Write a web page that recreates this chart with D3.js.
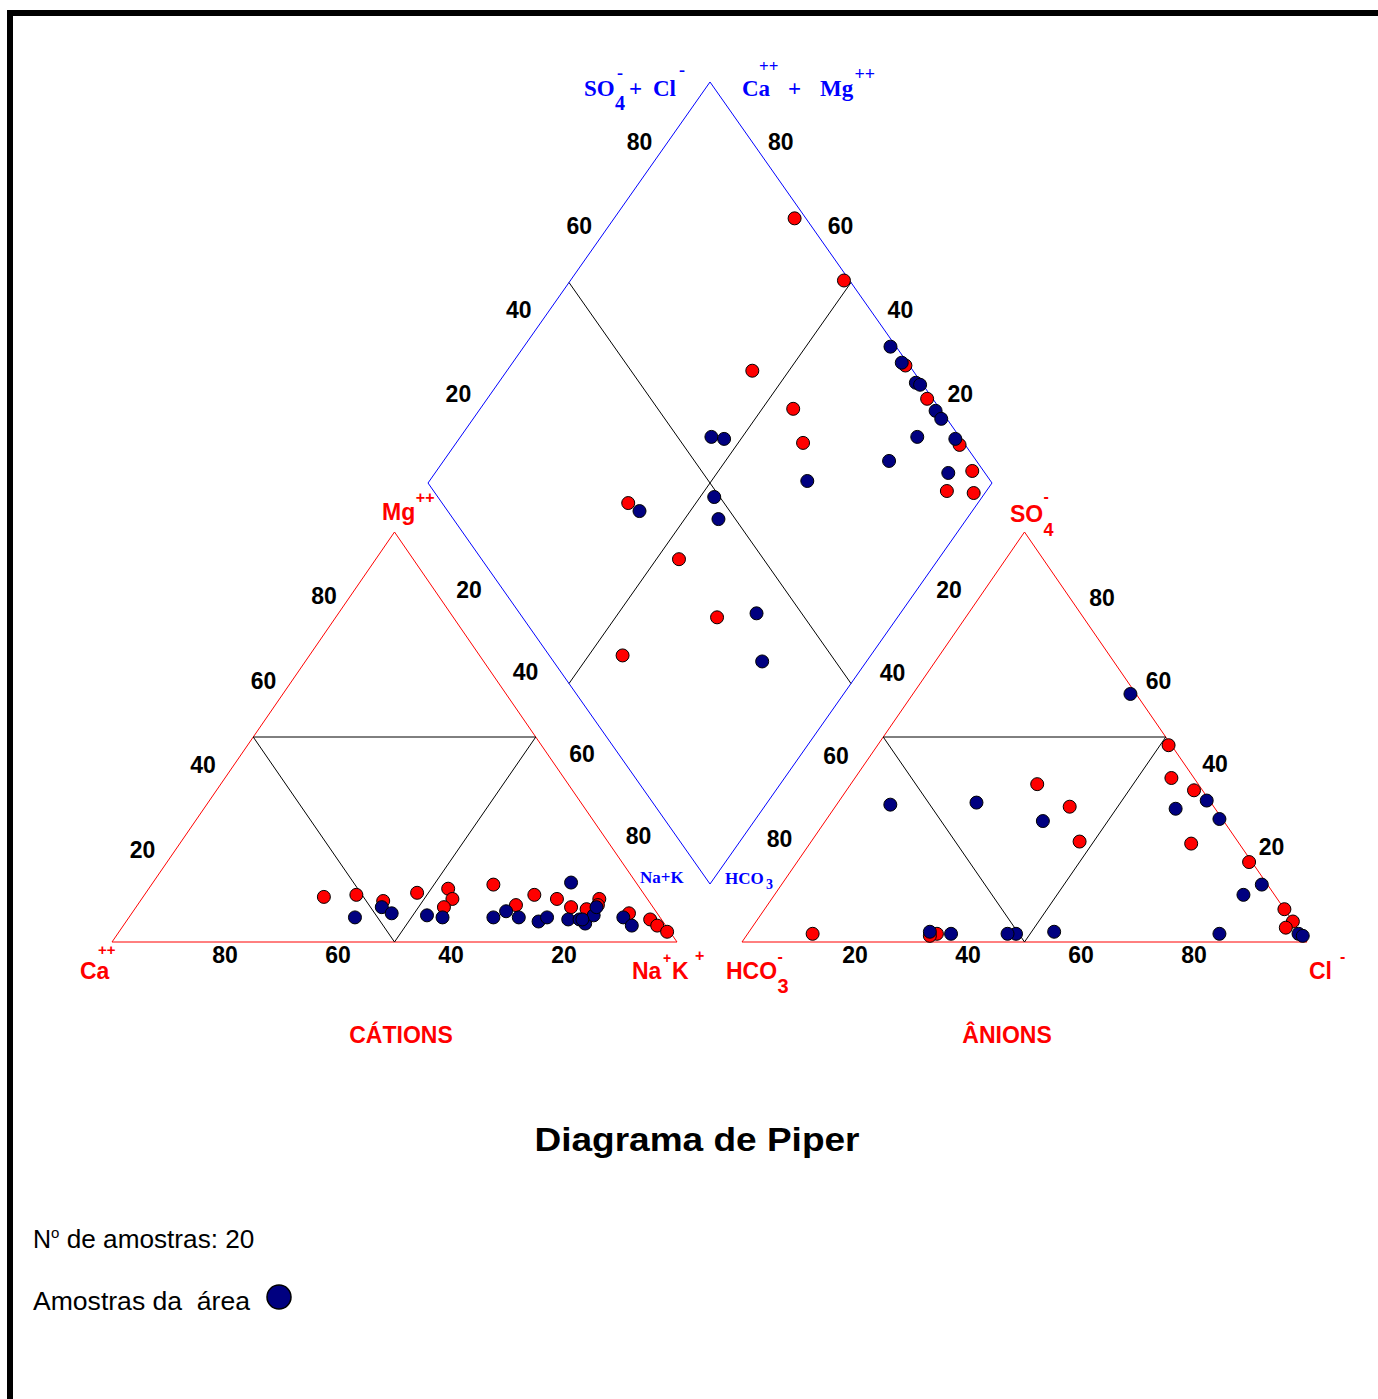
<!DOCTYPE html>
<html>
<head>
<meta charset="utf-8">
<script src="https://cdn.jsdelivr.net/npm/d3@7"></script>
<style>
  body { margin: 0; background: #fff; }
</style>
</head>
<body>
<div id="chart"></div>
<script>
var width = 1378,
    height = 1399;

var ticks = [20, 40, 60, 80];

// cations: [Ca %, Mg %]  (Na+K = 100 - Ca - Mg)
var cationsRed = [[57,11],[51,11.5],[47,10],[40,12],[34,13],[34.5,10.5],[37,8.5],[25.5,14],[24,9],
  [19.5,11.5],[16,10.5],[14.5,8.5],[12,8],[8.5,10.5],[9.5,9],[5,7],[2,5.5],[1.5,4],[0.5,2.5]];
var cationsBlue = [[54,6],[48,8.5],[47,7],[41,6.5],[38.5,6],[29.5,6],[26.5,7.5],[25,6],[22,5],
  [20,6],[11.5,14.5],[16.5,5.5],[14.5,5.5],[14,4.5],[11.5,6.5],[10,8.5],[14,5.5],[6.5,6],[6,4]];

// anions: [Cl %, SO4 %]  (HCO3 = 100 - Cl - SO4)
var anionsRed = [[51.5,48],[56,40],[61.5,37],[67.5,24],[80,19.5],[92,8],[95,5],[94.5,3.5],
  [33.5,2],[32.5,1.5],[11.5,2],[33,38.5],[41.5,33],[47.5,24.5]];
var anionsBlue = [[38.5,60.5],[65,34.5],[60.5,32.5],[69.5,30],[85,14],[83,11.5],[97.5,2],[98.5,1.5],
  [83.5,2],[54,2.5],[47.5,2],[46,2],[36,2],[32,2.5],[9.5,33.5],[24.5,34],[38.5,29.5]];

// diamond: [Ca+Mg %, SO4+Cl %]
var diamondRed = [[68,98],[51.5,99],[56.5,71.5],[44.5,74],[38.5,71.5],[30,99.3],[22,99],[10.5,99],
  [5,98],[7,91],[2,95.5],[62,33],[46,35],[32,34.5],[44,13]];
var diamondBlue = [[35,99],[31,99],[26,99],[25,99.5],[19,99],[17,99],[19,92.5],[12,99],[21,84.5],
  [9,93.5],[33,67.5],[55.5,56],[53,58],[47.5,49],[44,47],[59,34],[25.5,42],[18.5,37]];

var svg = d3.select("#chart")
    .append("svg")
    .attr("width", width)
    .attr("height", height);

// frame
svg.append("rect")
    .attr("x", 10).attr("y", 13)
    .attr("width", 1420).attr("height", 1420)
    .attr("fill", "none")
    .attr("stroke", "black")
    .attr("stroke-width", 6);

var xCat = d3.scaleLinear().domain([0, 100]).range([112, 677]);
var xAni = d3.scaleLinear().domain([0, 100]).range([742, 1307]);
var yTri = d3.scaleLinear().domain([0, 100]).range([942, 532]);
var xDia = d3.scaleLinear().domain([-100, 100]).range([428, 992]);
var yDia = d3.scaleLinear().domain([0, 200]).range([884, 82]);

function catPos(d) { var mg = d[1], nak = 100 - d[0] - d[1]; return [xCat(nak + mg / 2), yTri(mg)]; }
function aniPos(d) { return [xAni(d[0] + d[1] / 2), yTri(d[1])]; }
function diaPos(d) { return [xDia(d[1] - d[0]), yDia(d[0] + d[1])]; }

var line = d3.line();

function poly(pts, color, closed) {
  svg.append("path")
      .attr("d", line(pts) + (closed ? "Z" : ""))
      .attr("fill", "none")
      .attr("stroke", color)
      .attr("stroke-width", 1);
}

// outlines
poly([catPos([100,0]), catPos([0,0]), catPos([0,100])], "#ff0000", true);
poly([aniPos([0,0]), aniPos([100,0]), aniPos([0,100])], "#ff0000", true);
poly([diaPos([0,0]), diaPos([0,100]), diaPos([100,100]), diaPos([100,0])], "#0000ff", true);

// inner lines
poly([catPos([50,50]), catPos([0,50]), catPos([50,0])], "#000", true);
poly([aniPos([0,50]), aniPos([50,50]), aniPos([50,0])], "#000", true);
poly([diaPos([100,50]), diaPos([0,50])], "#000");
poly([diaPos([50,100]), diaPos([50,0])], "#000");

var serif = "'Liberation Serif', 'Times New Roman', serif";
var sans = "'Liberation Sans', Arial, sans-serif";

// tick labels
var tickSets = [
  { pos: function(v) { return catPos([100 - v, v]); }, dx: -20, dy: -14, sx: 0.2, sy: -0.13 },
  { pos: function(v) { return catPos([0, 100 - v]); }, dx: 18, dy: -24, sx: 0, sy: 0 },
  { pos: function(v) { return catPos([v, 0]); }, dx: 0, dy: 13, sx: 0, sy: 0 },
  { pos: function(v) { return aniPos([0, 100 - v]); }, dx: -19, dy: -23, sx: 0, sy: 0.05 },
  { pos: function(v) { return aniPos([100 - v, v]); }, dx: 21, dy: -15, sx: 0, sy: -0.05 },
  { pos: function(v) { return aniPos([v, 0]); }, dx: 0, dy: 13, sx: 0, sy: 0 },
  { pos: function(v) { return diaPos([100, v]); }, dx: -20, dy: -14.5, sx: 0.2, sy: -0.2 },
  { pos: function(v) { return diaPos([v, 100]); }, dx: 19.5, dy: -14.5, sx: -0.17, sy: -0.2 }
];

tickSets.forEach(function(ts) {
  svg.append("g").selectAll("text")
      .data(ticks)
      .enter().append("text")
      .attr("x", function(d) { return ts.pos(d)[0] + ts.dx + ts.sx * (d - 50); })
      .attr("y", function(d) { return ts.pos(d)[1] + ts.dy + ts.sy * (d - 50); })
      .attr("text-anchor", "middle")
      .attr("dominant-baseline", "central")
      .attr("font-family", sans)
      .attr("font-weight", "bold")
      .attr("font-size", 23)
      .attr("fill", "#000")
      .text(function(d) { return d; });
});

// composite labels: parts are [text, x, y, size]
function label(parts, color, family) {
  svg.append("text")
      .attr("fill", color)
      .attr("font-family", family)
      .attr("font-weight", "bold")
      .selectAll("tspan")
      .data(parts)
      .enter().append("tspan")
      .attr("x", function(d) { return d[1]; })
      .attr("y", function(d) { return d[2]; })
      .attr("font-size", function(d) { return d[3]; })
      .text(function(d) { return d[0]; });
}

label([["SO", 584, 96, 23], ["4", 615, 110, 20], ["-", 617, 79, 18], ["+", 629, 96, 23],
       ["Cl", 653, 96, 23], ["-", 679, 76, 18]], "#0000ff", serif);
label([["Ca", 742, 96, 23], ["++", 759, 71.5, 17], ["+", 788, 96, 23],
       ["Mg", 820, 96, 23], ["++", 854.5, 80, 18]], "#0000ff", serif);
label([["Na+K", 640, 883, 17]], "#0000ff", serif);
label([["HCO", 725, 884, 17], ["3", 766, 889, 14]], "#0000ff", serif);

label([["Mg", 382, 520, 23], ["++", 415.8, 503, 16]], "#ff0000", sans);
label([["SO", 1010, 522, 23], ["-", 1043.6, 502, 16], ["4", 1043.6, 536, 18]], "#ff0000", sans);
label([["Ca", 80, 979, 23], ["++", 98, 954.5, 15]], "#ff0000", sans);
label([["Na", 632, 979, 23], ["+", 663, 963, 14], ["K", 672, 979, 23], ["+", 695, 961, 16]], "#ff0000", sans);
label([["HCO", 726, 979, 23], ["-", 777.6, 962, 16], ["3", 777.6, 993, 20]], "#ff0000", sans);
label([["Cl", 1309, 979, 23], ["-", 1340, 962, 16]], "#ff0000", sans);

svg.selectAll("text.group")
    .data([["CÁTIONS", 401], ["ÂNIONS", 1007]])
    .enter().append("text")
    .attr("class", "group")
    .attr("x", function(d) { return d[1]; })
    .attr("y", 1043)
    .attr("text-anchor", "middle")
    .attr("font-family", sans)
    .attr("font-weight", "bold")
    .attr("font-size", 23)
    .attr("fill", "#ff0000")
    .text(function(d) { return d[0]; });

// points
function dots(data, pos, fill) {
  svg.append("g").selectAll("circle")
      .data(data)
      .enter().append("circle")
      .attr("cx", function(d) { return pos(d)[0]; })
      .attr("cy", function(d) { return pos(d)[1]; })
      .attr("r", 6.5)
      .attr("fill", fill)
      .attr("stroke", "#000")
      .attr("stroke-width", 1);
}

dots(cationsRed, catPos, "#ff0000");
dots(anionsRed, aniPos, "#ff0000");
dots(diamondRed, diaPos, "#ff0000");
dots(cationsBlue, catPos, "#000080");
dots(anionsBlue, aniPos, "#000080");
dots(diamondBlue, diaPos, "#000080");

// title
svg.append("text")
    .attr("x", 697).attr("y", 1151)
    .attr("text-anchor", "middle")
    .attr("font-family", sans)
    .attr("font-weight", "bold")
    .attr("font-size", 34)
    .attr("textLength", 325)
    .attr("lengthAdjust", "spacingAndGlyphs")
    .text("Diagrama de Piper");

// legend
var leg = svg.append("text")
    .attr("x", 33).attr("y", 1248)
    .attr("font-family", sans)
    .attr("font-size", 25);
leg.append("tspan").text("N");
leg.append("tspan").attr("dy", -10).attr("font-size", 15).text("o");
leg.append("tspan").attr("dy", 10).attr("textLength", 195)
    .attr("lengthAdjust", "spacingAndGlyphs").text(" de amostras: 20");

svg.append("text")
    .attr("x", 33).attr("y", 1310)
    .attr("font-family", sans)
    .attr("font-size", 25)
    .attr("textLength", 217)
    .attr("lengthAdjust", "spacingAndGlyphs")
    .style("white-space", "pre")
    .text("Amostras da  área");

svg.append("circle")
    .attr("cx", 279).attr("cy", 1297)
    .attr("r", 12)
    .attr("fill", "#000080")
    .attr("stroke", "#000")
    .attr("stroke-width", 1.5);
</script>
</body>
</html>
